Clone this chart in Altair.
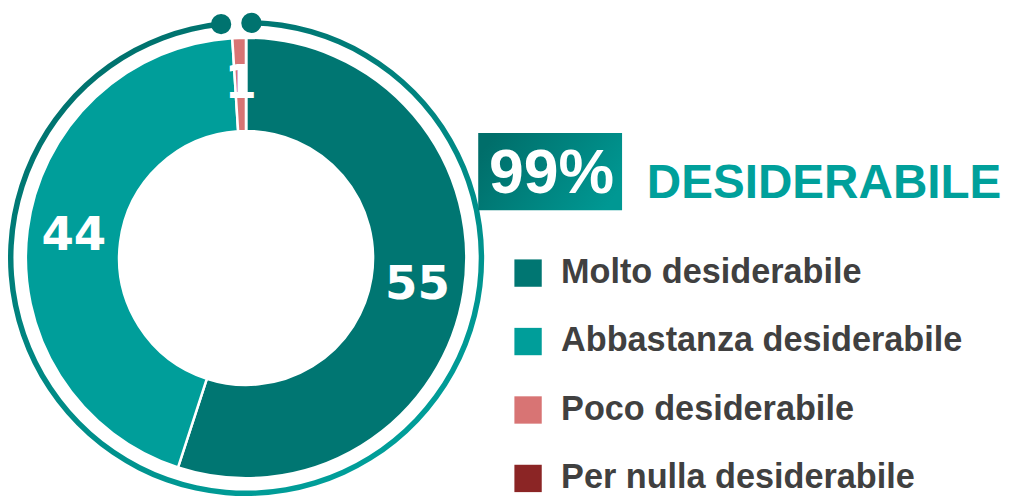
import altair as alt
import pandas as pd
import math

categories = ["Molto desiderabile", "Abbastanza desiderabile", "Poco desiderabile", "Per nulla desiderabile"]
values = [55, 44, 1, 0]
colors = ["#007672", "#009e9a", "#d87474", "#8b2525"]
headline_value = "99%"
headline_label = "DESIDERABILE"
ring_dot_angles_deg = [353.9, 1.3]

W, H = 1003, 490
CX, CY = 240, 250
R_OUT, R_IN = 222, 128
RING_R = 237

df = pd.DataFrame({"cat": categories, "value": values, "ord": list(range(len(categories)))})
df["label"] = df["value"].astype(str)

color_scale = alt.Scale(domain=categories, range=colors)

base = alt.Chart(df)

arcs = base.mark_arc(stroke="white", strokeWidth=2.5, radius=R_OUT, radius2=R_IN).encode(
    theta=alt.Theta("value:Q", stack=True),
    order=alt.Order("ord:Q"),
    color=alt.Color("cat:N", scale=color_scale, sort=categories,
                    legend=alt.Legend(title=None, orient="none", legendX=507, legendY=248,
                                      symbolType="square", symbolSize=760, symbolStrokeWidth=0,
                                      labelFontSize=34.5, labelFont="Liberation Sans", labelFontWeight="bold",
                                      labelColor="#404040", rowPadding=34, labelOffset=16, labelLimit=600,
                                      symbolOpacity=1)),
    x=alt.value(CX), y=alt.value(CY),
)

labels = base.mark_text(radius=175, font="DejaVu Sans", fontWeight="bold", fontSize=47,
                        fill="white", align="center", baseline="middle").encode(
    theta=alt.Theta("value:Q", stack=True),
    order=alt.Order("ord:Q"),
    text="label:N",
    x=alt.value(CX), y=alt.value(CY),
).transform_filter("datum.value > 0")

ring_grad = alt.LinearGradient(gradient="linear",
                               stops=[alt.GradientStop(color="#006f6b", offset=0),
                                      alt.GradientStop(color="#00a29d", offset=1)],
                               x1=0.2, y1=0, x2=0.8, y2=1)

ring_df = pd.DataFrame({"a": [0]})
ring = alt.Chart(ring_df).mark_arc(radius=240, radius2=234.5,
                                    theta=math.radians(ring_dot_angles_deg[1]),
                                    theta2=math.radians(ring_dot_angles_deg[0]),
                                    fill=ring_grad).encode(x=alt.value(CX), y=alt.value(CY))

dots_df = pd.DataFrame({"ang": ring_dot_angles_deg})
dots = alt.Chart(dots_df).transform_calculate(
    px=f"{CX} + {RING_R} * sin(datum.ang * PI / 180)",
    py=f"{CY} - {RING_R} * cos(datum.ang * PI / 180)",
).mark_circle(size=420, opacity=1, color="#00736f").encode(
    x=alt.X("px:Q", scale=None), y=alt.Y("py:Q", scale=None))

box_grad = alt.LinearGradient(gradient="linear",
                              stops=[alt.GradientStop(color="#006e6a", offset=0),
                                     alt.GradientStop(color="#009893", offset=1)],
                              x1=0, y1=0.3, x2=1, y2=0.7)
box = alt.Chart(ring_df).mark_rect(fill=box_grad).encode(
    x=alt.value(474), x2=alt.value(619), y=alt.value(124), y2=alt.value(202))

head_df = pd.DataFrame({"t": [headline_value]})
head_txt = alt.Chart(head_df).mark_text(font="Liberation Sans", fontWeight="bold", fontSize=63,
                                        color="white", align="center", baseline="alphabetic").encode(
    text="t:N", x=alt.value(548), y=alt.value(185))

lab_df = pd.DataFrame({"t": [headline_label]})
lab_txt = alt.Chart(lab_df).mark_text(font="Liberation Sans", fontWeight="bold", fontSize=48,
                                      color="#00a09b", align="left", baseline="alphabetic").encode(
    text="t:N", x=alt.value(644), y=alt.value(190))

chart = alt.layer(ring, dots, arcs, labels, box, head_txt, lab_txt).properties(
    width=W, height=H, padding=0, autosize="none"
).configure_view(stroke=None)

chart.save("out.html", embed_options={"renderer": "svg", "actions": False})
